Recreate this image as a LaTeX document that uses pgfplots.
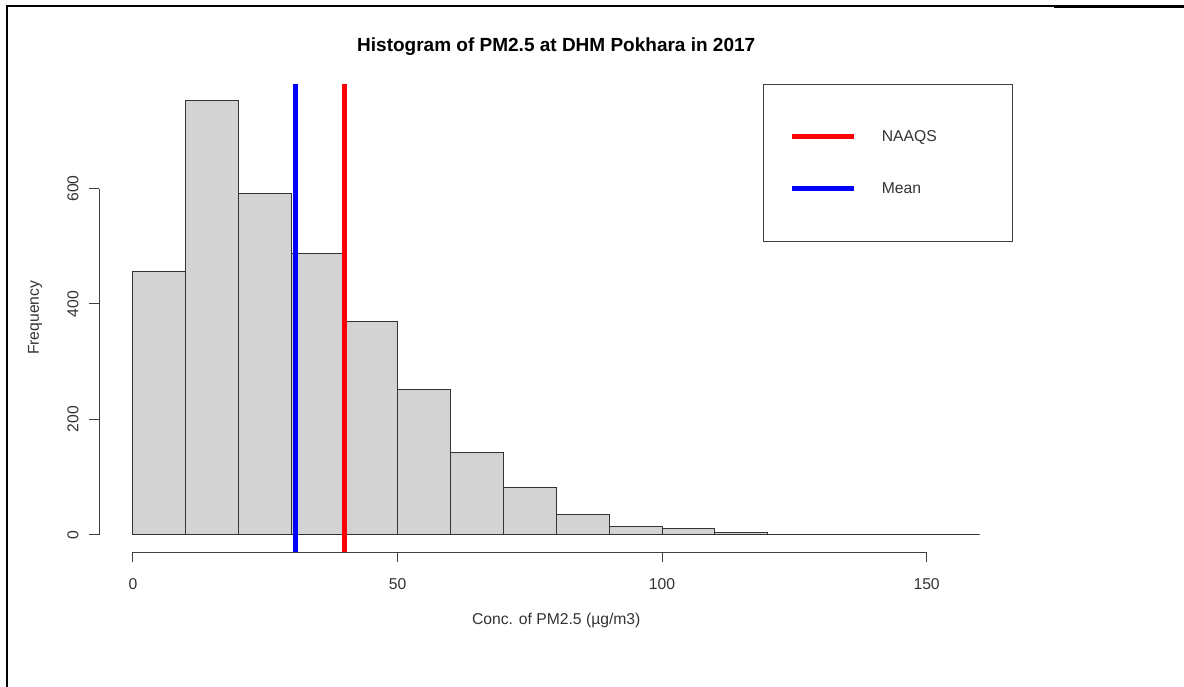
\documentclass[border=0pt]{standalone}
\usepackage{fontspec}
\setmainfont{Liberation Sans}
\usepackage{pgfplots}
\pgfplotsset{compat=1.18}
\definecolor{histfill}{HTML}{D3D3D3}
\newcommand{\basefont}{\fontsize{7.85bp}{9bp}\selectfont}
% legend text in a fixed box, 26bp tall row, level with the line
\newcommand{\legtext}[1]{\raisebox{5bp}[16bp][10bp]{\makebox[52.5bp][l]{#1}}}

\begin{document}
\begin{tikzpicture}
% page = 1184 x 687 px at 0.5bp per px
\useasboundingbox (0bp,0bp) rectangle (592bp,-343.5bp);
% border of the surrounding table cell
\draw[line width=1.1bp] (3.6bp,-343.5bp) -- (3.6bp,-2.8bp) -- (527bp,-2.8bp);
\draw[line width=1.3bp] (527bp,-3.1bp) -- (592bp,-3.1bp);

\begin{axis}[
    at={(49.55bp,-276bp)}, anchor=south west,
    scale only axis, width=457.15bp, height=234.25bp,
    xmin=-6.4, xmax=166.4, ymin=-30.08, ymax=782.08,
    clip=false,
    axis x line*=bottom, axis y line*=left,
    axis line style={draw=none},
    tick align=outside, major tick length=5bp,
    tick style={black!75, line width=0.5bp},
    xtick={0,50,100,150}, ytick={0,200,400,600},
    /pgf/number format/assume math mode=true,
    ticklabel style={font=\basefont, text=black!80},
    xticklabel style={yshift=-4.5bp},
    yticklabel style={rotate=90, anchor=south, inner ysep=5.1bp},
    title={Histogram of PM2.5 at DHM Pokhara in 2017},
    title style={at={(axis description cs:0.5,1.0523)}, anchor=center,
        font=\fontsize{9.5bp}{11bp}\selectfont\bfseries},
    xlabel={Conc. of PM2.5 (µg/m3)},
    xlabel style={at={(axis description cs:0.5,-0.1451)}, anchor=center,
        font=\basefont, text=black!80},
    ylabel={Frequency},
    ylabel style={at={(axis description cs:-0.070,0.5)}, anchor=center,
        font=\basefont, text=black!80},
    legend style={at={(1,1)}, anchor=north east,
        draw=black!75, line width=0.5bp, fill=white,
        inner xsep=13bp, inner ysep=13.25bp,
        column sep=12.5bp, row sep=0pt,
        nodes={inner sep=0pt, font=\basefont, text=black!80}},
    legend cell align=left,
    legend image code/.code={
        \path[draw=none, fill=none] (0bp,-13bp) rectangle (31bp,13bp);
        \draw[#1] (0bp,0bp) -- (31bp,0bp);},
]
% histogram counts, 10 ug/m3 bins from 0 to 160
\addplot[ybar interval, fill=histfill, draw=black!80, line width=0.5bp, forget plot]
    coordinates {(0,457) (10,752) (20,592) (30,488) (40,369) (50,252) (60,143)
    (70,82) (80,35) (90,14) (100,10) (110,3) (120,0) (130,1) (140,0) (150,0) (160,0)};

\addplot[red, line width=2.5bp] coordinates {(40,-30.08) (40,782.08)};
\addlegendentry{\legtext{NAAQS}}
\addplot[blue, line width=2.5bp] coordinates {(30.7,-30.08) (30.7,782.08)};
\addlegendentry{\legtext{Mean}}

% R style axis lines: only across the tick range
\draw[black!75, line width=0.5bp] (axis cs:0,-30.08) -- (axis cs:150,-30.08);
\draw[black!75, line width=0.5bp] (axis cs:-6.4,0) -- (axis cs:-6.4,600);
\end{axis}
\end{tikzpicture}
\end{document}
